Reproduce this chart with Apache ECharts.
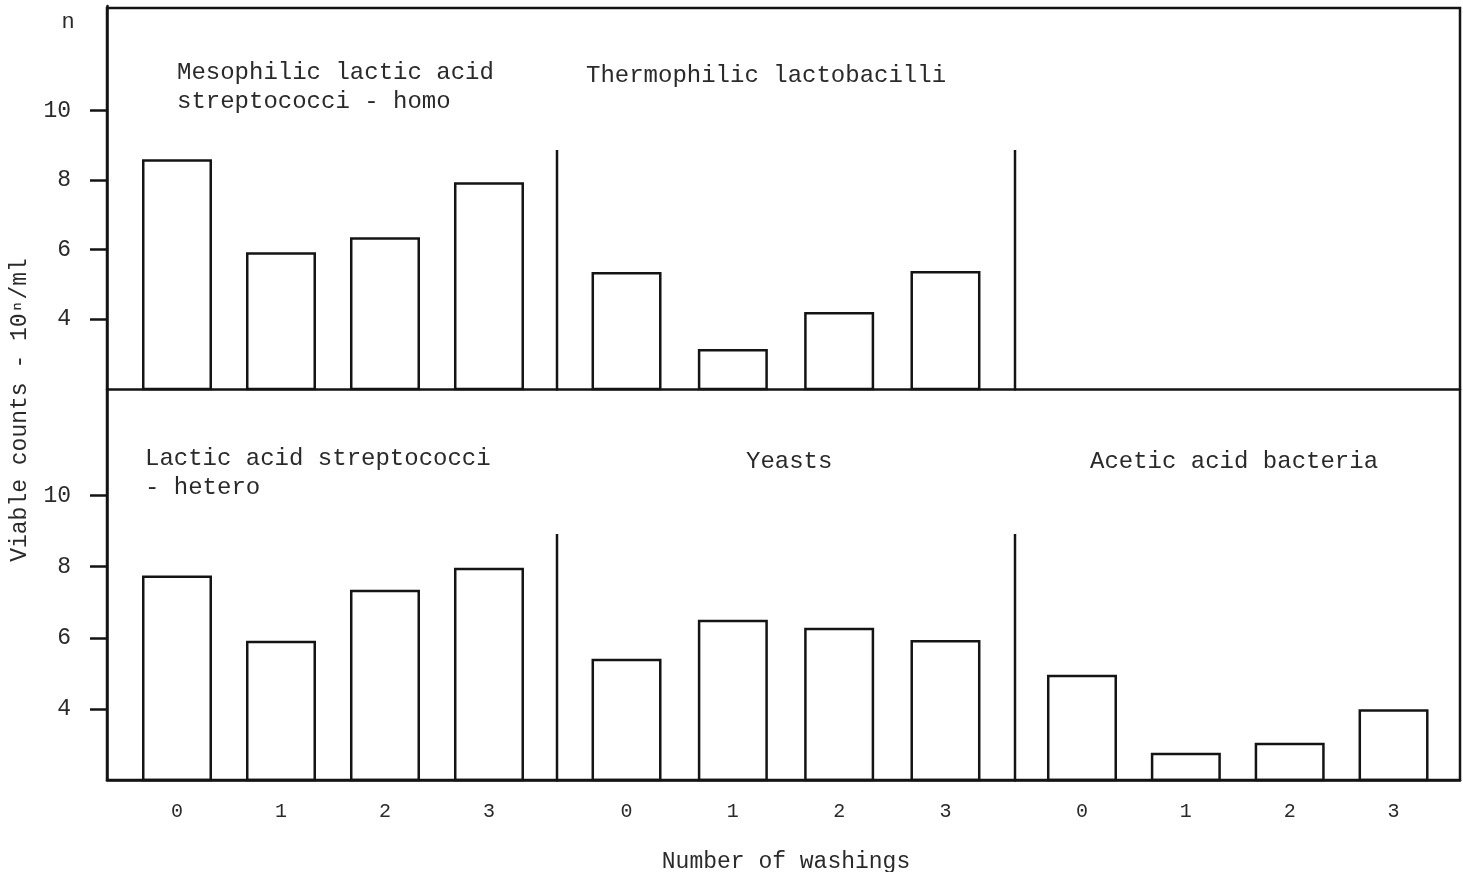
<!DOCTYPE html>
<html>
<head>
<meta charset="utf-8">
<script src="https://cdn.jsdelivr.net/npm/echarts@6/dist/echarts.min.js"></script>
<style>
html,body{margin:0;padding:0;background:#fff;}
#chart{width:1463px;height:872px;}
</style>
</head>
<body>
<div id="chart"></div>
<script>
// ---- data ----
const washings = [0, 1, 2, 3];
const xTickLabels = ['0', '1', '2', '3'];
const yTickValues = [4, 6, 8, 10];
const mesophilicHomo = [8.6, 5.93, 6.36, 7.94];
const thermophilicLactobacilli = [5.36, 3.15, 4.21, 5.39];
const lacticHetero = [7.75, 5.92, 7.35, 7.97];
const yeasts = [5.41, 6.51, 6.28, 5.94];
const aceticAcidBacteria = [4.96, 2.77, 3.05, 3.99];
const panelTitles = [
  'Mesophilic lactic acid\nstreptococci - homo',
  'Thermophilic lactobacilli',
  'Lactic acid streptococci\n- hetero',
  'Yeasts',
  'Acetic acid bacteria'
];
const xAxisTitle = 'Number of washings';
const yAxisTitle = 'Viable counts - 10\u207F/ml';
const topMarker = 'n';

// ---- layout ----
const FONT = '"Liberation Mono", "DejaVu Sans Mono", monospace';
const INK = '#141414';
const TXT = '#2a2a2a';
const LW = 2.5;
const frame = {left: 107, right: 1460, top: 8, bottom: 780, mid: 389};
const cols = [
  {l: 107, r: 557, min: -0.673, max: 3.654},
  {l: 557, r: 1015, min: -0.654, max: 3.654},
  {l: 1015, r: 1460, min: -0.645, max: 3.640}
];
const rows = [
  {top: 6, height: 383},
  {top: 389, height: 391}
];

const grids = [], xAxes = [], yAxes = [], series = [];
rows.forEach((row, ri) => {
  cols.forEach((c, ci) => {
    const gi = grids.length;
    grids.push({left: c.l, top: row.top, width: c.r - c.l, height: row.height, containLabel: false, outerBoundsMode: 'none'});
    xAxes.push({
      gridIndex: gi, type: 'value', min: c.min, max: c.max,
      axisLine: {show: true, onZero: false, lineStyle: {color: INK, width: LW}},
      axisTick: {show: false}, splitLine: {show: false},
      axisLabel: {show: ri === 1, customValues: washings, formatter: v => xTickLabels[washings.indexOf(v)] ?? '',
        fontFamily: FONT, fontSize: 20, color: TXT, margin: 22},
      name: (ri === 1 && ci === 1) ? xAxisTitle : '',
      nameLocation: 'middle', nameGap: 70,
      nameTextStyle: {fontFamily: FONT, fontSize: 23, color: TXT}
    });
    yAxes.push({
      gridIndex: gi, type: 'value', min: 2, max: 13,
      show: ci === 0,
      axisLine: {show: true, onZero: false, lineStyle: {color: INK, width: LW}},
      axisTick: {show: true, length: 17, customValues: yTickValues, lineStyle: {color: INK, width: LW}},
      axisLabel: {show: true, customValues: yTickValues, fontFamily: FONT, fontSize: 23, color: TXT, margin: 36},
      splitLine: {show: false}
    });
  });
});

const panelData = [
  [0, mesophilicHomo], [1, thermophilicLactobacilli],
  [3, lacticHetero], [4, yeasts], [5, aceticAcidBacteria]
];
panelData.forEach(([gi, vals]) => {
  series.push({
    type: 'bar', xAxisIndex: gi, yAxisIndex: gi,
    data: vals.map((v, i) => [washings[i], v]),
    barWidth: 70,
    itemStyle: {color: '#fff', borderColor: INK, borderWidth: LW},
    silent: true
  });
});

const titleStyle = {fontFamily: FONT, fontSize: 24, fontWeight: 'normal', color: TXT, lineHeight: 29};
const titles = [
  {text: panelTitles[0], left: 177, top: 58, padding: 0, textStyle: titleStyle},
  {text: panelTitles[1], left: 586, top: 61, padding: 0, textStyle: titleStyle},
  {text: panelTitles[2], left: 145, top: 444, padding: 0, textStyle: titleStyle},
  {text: panelTitles[3], left: 746, top: 447, padding: 0, textStyle: titleStyle},
  {text: panelTitles[4], left: 1090, top: 447, padding: 0, textStyle: titleStyle}
];

const chart = echarts.init(document.getElementById('chart'), null, {renderer: 'canvas'});
chart.setOption({
  backgroundColor: '#fff',
  animation: false,
  title: titles,
  grid: grids,
  xAxis: xAxes,
  yAxis: yAxes,
  series: series,
  graphic: [
    {type: 'rect', z: 100, silent: true,
     shape: {x: frame.left, y: frame.top, width: frame.right - frame.left, height: frame.bottom - frame.top},
     style: {fill: null, stroke: INK, lineWidth: LW}},
    {type: 'line', z: 100, silent: true, shape: {x1: 557, y1: 150, x2: 557, y2: frame.mid}, style: {stroke: INK, lineWidth: LW}},
    {type: 'line', z: 100, silent: true, shape: {x1: 1015, y1: 150, x2: 1015, y2: frame.mid}, style: {stroke: INK, lineWidth: LW}},
    {type: 'line', z: 100, silent: true, shape: {x1: 557, y1: 534, x2: 557, y2: frame.bottom}, style: {stroke: INK, lineWidth: LW}},
    {type: 'line', z: 100, silent: true, shape: {x1: 1015, y1: 534, x2: 1015, y2: frame.bottom}, style: {stroke: INK, lineWidth: LW}},
    {type: 'text', z: 100, silent: true, x: 68, y: 22,
     style: {text: topMarker, font: '22px ' + FONT, fill: TXT, align: 'center', verticalAlign: 'middle'}},
    {type: 'text', z: 100, silent: true, x: 20, y: 410, rotation: Math.PI / 2,
     style: {text: yAxisTitle, font: '23px ' + FONT, fill: TXT, align: 'center', verticalAlign: 'middle'}}
  ]
});
</script>
</body>
</html>
